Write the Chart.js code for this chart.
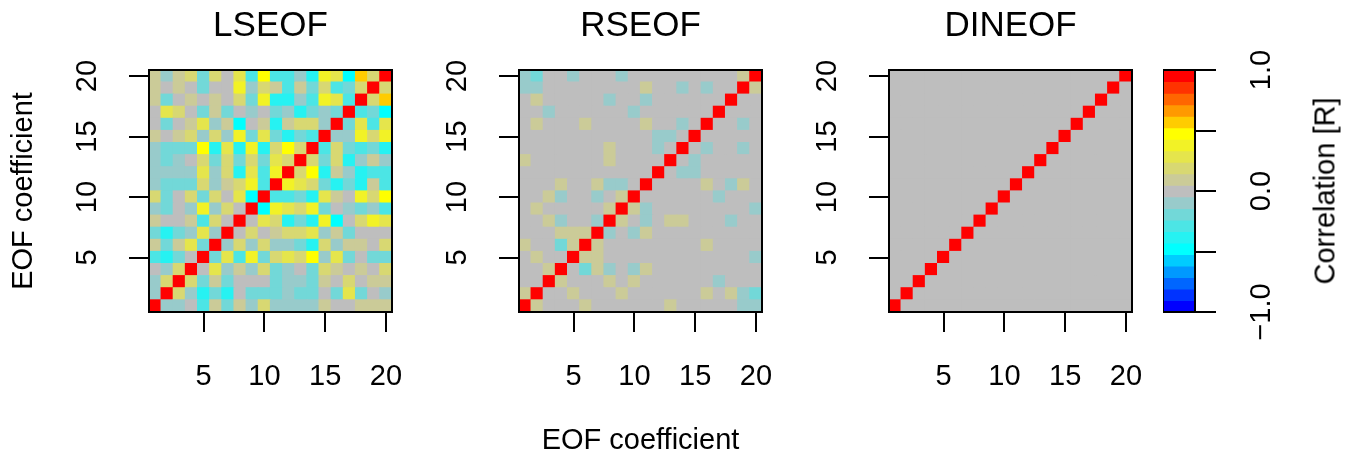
<!DOCTYPE html>
<html>
<head>
<meta charset="utf-8">
<script src="https://cdn.jsdelivr.net/npm/chart.js@4.4.1/dist/chart.umd.min.js"></script>
<style>
  html, body { margin: 0; padding: 0; background: #fff; }
  body { width: 1358px; height: 460px; position: relative; overflow: hidden;
         font-family: "Liberation Sans", Arial, sans-serif; }
  canvas { position: absolute; top: 0; }
  #cbarTitle { position: absolute; left: 1325px; top: 191px; font-size: 29px; line-height: 1;
               white-space: nowrap; transform: translate(-50%, -50%) rotate(-90deg); }
</style>
</head>
<body>
<canvas id="p1" width="452" height="460" style="left:0px"></canvas>
<canvas id="p2" width="452" height="460" style="left:370px"></canvas>
<canvas id="p3" width="452" height="460" style="left:740px"></canvas>
<canvas id="cbar" width="195" height="460" style="left:1163px"></canvas>
<div id="cbarTitle">Correlation [R]</div>
<script>
// EOF coefficients 1..20 (x = column, y = row)
const coef = [1, 2, 3, 4, 5, 6, 7, 8, 9, 10, 11, 12, 13, 14, 15, 16, 17, 18, 19, 20];
const axisTicks = [5, 10, 15, 20];
const cbarTicks = [-1, -0.5, 0, 0.5, 1];
const cbarLabels = ['\u22121.0', '', '0.0', '', '1.0'];

// colour scale, -1 (blue) .. 1 (red), 21 equal bins
const palette = [
  '#0000FF', '#0033FF', '#0066FF', '#0099FF', '#00CCFF', '#00FFFF',
  '#26F2F2', '#4CE5E5', '#72D8D8', '#98CBCB', '#BEBEBE', '#CBCB98',
  '#D8D872', '#E5E54C', '#F2F226', '#FFFF00', '#FFCC00', '#FF9900',
  '#FF6600', '#FF3300', '#FF0000'
];

// correlation matrices, rows listed from coefficient 20 (top) down to 1 (bottom)
const lseof = [
  [0.1,-0.1,0.1,0.2,-0.2,0.2,0,0.3,-0.3,0.5,-0.3,-0.3,-0.1,-0.4,0.4,0.3,-0.5,0.6,0.2,1],
  [0.1,0,0.1,0,-0.2,0,0,0.4,-0.1,0.2,0.1,-0.3,0.1,-0.2,0.2,-0.3,-0.2,0.2,1,0.2],
  [0.1,-0.2,0,0.1,0,0.1,0,0.2,-0.2,0.4,-0.4,-0.4,-0.1,-0.3,0.4,0.3,-0.3,1,0.2,0.6],
  [0,0.3,0.2,0,-0.2,0.1,-0.2,0,-0.1,0,-0.2,-0.1,-0.4,-0.2,-0.1,-0.2,1,-0.3,-0.2,-0.5],
  [0,-0.2,0,0.1,0.3,-0.1,0.1,-0.5,0,0.1,-0.4,0.1,0.2,0.2,-0.1,1,-0.2,0.3,-0.3,0.3],
  [0.1,0,0.1,0.2,-0.1,0.2,-0.1,0.4,-0.2,0.3,-0.2,-0.4,-0.2,-0.3,1,-0.1,-0.1,0.4,0.2,0.4],
  [-0.1,-0.2,-0.2,-0.2,0.5,-0.4,0.3,-0.4,0.4,-0.4,0.2,0.5,0.2,1,-0.3,0.2,-0.2,-0.3,-0.2,-0.4],
  [-0.1,-0.2,-0.1,0,0.2,-0.2,0.2,-0.2,0.2,-0.2,0.3,0.2,1,0.2,-0.2,0.2,-0.4,-0.1,0.1,-0.1],
  [-0.1,-0.1,-0.1,-0.1,0.3,-0.1,0.2,-0.4,0.3,-0.3,0.4,1,0.2,0.5,-0.4,0.1,-0.1,-0.4,-0.3,-0.3],
  [-0.1,-0.2,-0.2,-0.2,0.2,-0.1,0.1,0.2,0.4,-0.3,1,0.4,0.3,0.2,-0.2,-0.4,-0.2,-0.4,0.1,-0.3],
  [0.2,-0.2,0,0.2,-0.2,0.2,0,0.3,-0.5,1,-0.3,-0.3,-0.2,-0.4,0.3,0.1,0,0.4,0.2,0.5],
  [-0.1,-0.2,0,-0.1,0.4,-0.1,0.2,0,1,-0.5,0.4,0.3,0.2,0.4,-0.2,0,-0.1,-0.2,-0.1,-0.3],
  [0.1,0,0,0.1,-0.3,0.2,0,1,0,0.3,0.2,-0.4,-0.2,-0.4,0.4,-0.5,0,0.2,0.4,0.3],
  [-0.2,-0.4,-0.2,-0.1,0.3,-0.1,1,0,0.2,0,0.1,0.2,0.2,0.3,-0.1,0.1,-0.2,0,0,0],
  [0.1,-0.2,0.1,0.3,-0.2,1,-0.1,0.2,-0.1,0.2,-0.1,-0.1,-0.2,-0.4,0.2,-0.1,0.1,0.1,0,0.2],
  [-0.3,-0.4,-0.2,0,1,-0.2,0.3,-0.3,0.4,-0.2,0.2,0.3,0.2,0.5,-0.1,0.3,-0.2,0,-0.2,-0.2],
  [0,-0.1,0.2,1,0,0.3,-0.1,0.1,-0.1,0.2,-0.2,-0.1,0,-0.2,0.2,0.1,0,0.1,0,0.2],
  [-0.1,0.2,1,0.2,-0.2,0.1,-0.2,0,0,0,-0.2,-0.1,-0.1,-0.2,0.1,0,0.2,0,0.1,0.1],
  [-0.1,1,0.2,-0.1,-0.4,-0.2,-0.4,0,-0.2,-0.2,-0.2,-0.1,-0.2,-0.2,0,-0.2,0.3,-0.2,0,-0.1],
  [1,-0.1,-0.1,0,-0.3,0.1,-0.2,0.1,-0.1,0.2,-0.1,-0.1,-0.1,-0.1,0.1,0,0,0.1,0.1,0.1]
];

const rseof = [
  [-0.1,-0.2,0,0,-0.1,0,0,0,-0.1,0,0,0,0,0,0,0,0,0,0.1,1],
  [-0.1,-0.1,0,0,0,0,0,0,0,0,0.1,0,0,-0.1,0,-0.1,0,0,1,0.1],
  [0,0.1,0,0,0,0,0,-0.1,0,0,-0.1,0,0,0,0,0,0,1,0,0],
  [0,0,-0.1,0,0,0,0,0,0,-0.1,0,0,0,0,0,0,1,0,0,0],
  [0,0.1,0,0,0,0.1,0,0,0,0,0.1,0,0,-0.1,0,1,0,0,-0.1,0],
  [0,0,0,0,0,0,0,0,0,0,0,-0.1,-0.1,0,1,0,0,0,0,0],
  [0,0,0,0,0,0,0,0.1,0,0,0,-0.1,0,1,0,-0.1,0,0,-0.1,0],
  [0.1,0,0,0,0,0,0,0.1,0,0,0,0,1,0,-0.1,0,0,0,0,0],
  [0,0,0,0,0,0,0,0,0,0,0,1,0,-0.1,-0.1,0,0,0,0,0],
  [0,0,0,0.1,0,0,0.1,-0.1,-0.1,0,1,0,0,0,0,0.1,0,-0.1,0.1,0],
  [0,0,0.1,-0.1,0,0,-0.1,0,0.1,1,0,0,0,0,0,0,-0.1,0,0,0],
  [0,0.1,0,0,0,0,0,0.1,1,0.1,-0.1,0,0,0,0,0,0,0,0,-0.1],
  [0,0,0.1,-0.1,0,0,-0.1,1,0.1,0,-0.1,0,0.1,0.1,0,0,0,-0.1,0,0],
  [0,0,0,0.1,0.1,0.1,1,-0.1,0,-0.1,0.1,0,0,0,0,0,0,0,0,0],
  [0.1,0,0,-0.2,0.1,1,0.1,0,0,0,0,0,0,0,0,0.1,0,0,0,0],
  [0,0.1,0,0,1,0.1,0.1,0,0,0,0,0,0,0,0,0,0,0,0,-0.1],
  [0,0,0.1,1,0,-0.2,0.1,-0.1,0,-0.1,0.1,0,0,0,0,0,0,0,0,0],
  [0,0,1,0.1,0,0,0,0.1,0,0.1,0,0,0,0,0,0,-0.1,0,0,0],
  [0.1,1,0,0,0.1,0,0,0,0.1,0,0,0,0,0,0,0.1,0,0.1,-0.1,-0.2],
  [1,0.1,0,0,0,0.1,0,0,0,0,0,0,0.1,0,0,0,0,0,-0.1,-0.1]
];

const dineof = [
  [0,0,0,0,0,0,0,0,0,0,0,0,0,0,0,0,0,0,0,1],
  [0,0,0,0,0,0,0,0,0,0,0,0,0,0,0,0,0,0,1,0],
  [0,0,0,0,0,0,0,0,0,0,0,0,0,0,0,0,0,1,0,0],
  [0,0,0,0,0,0,0,0,0,0,0,0,0,0,0,0,1,0,0,0],
  [0,0,0,0,0,0,0,0,0,0,0,0,0,0,0,1,0,0,0,0],
  [0,0,0,0,0,0,0,0,0,0,0,0,0,0,1,0,0,0,0,0],
  [0,0,0,0,0,0,0,0,0,0,0,0,0,1,0,0,0,0,0,0],
  [0,0,0,0,0,0,0,0,0,0,0,0,1,0,0,0,0,0,0,0],
  [0,0,0,0,0,0,0,0,0,0,0,1,0,0,0,0,0,0,0,0],
  [0,0,0,0,0,0,0,0,0,0,1,0,0,0,0,0,0,0,0,0],
  [0,0,0,0,0,0,0,0,0,1,0,0,0,0,0,0,0,0,0,0],
  [0,0,0,0,0,0,0,0,1,0,0,0,0,0,0,0,0,0,0,0],
  [0,0,0,0,0,0,0,1,0,0,0,0,0,0,0,0,0,0,0,0],
  [0,0,0,0,0,0,1,0,0,0,0,0,0,0,0,0,0,0,0,0],
  [0,0,0,0,0,1,0,0,0,0,0,0,0,0,0,0,0,0,0,0],
  [0,0,0,0,1,0,0,0,0,0,0,0,0,0,0,0,0,0,0,0],
  [0,0,0,1,0,0,0,0,0,0,0,0,0,0,0,0,0,0,0,0],
  [0,0,1,0,0,0,0,0,0,0,0,0,0,0,0,0,0,0,0,0],
  [0,1,0,0,0,0,0,0,0,0,0,0,0,0,0,0,0,0,0,0],
  [1,0,0,0,0,0,0,0,0,0,0,0,0,0,0,0,0,0,0,0]
];

Chart.defaults.font.family = '"Liberation Sans", Arial, sans-serif';
Chart.defaults.font.size = 29;
Chart.defaults.color = '#000';

function colorFor(v) {
  let k = Math.floor((v + 1) / 2 * palette.length);
  k = Math.max(0, Math.min(palette.length - 1, k));
  return palette[k];
}

// black box round the plot area
const frame = {
  id: 'frame',
  afterDatasetsDraw(chart) {
    const {ctx, chartArea: a} = chart;
    ctx.save();
    ctx.strokeStyle = '#000';
    ctx.lineWidth = 2;
    ctx.strokeRect(a.left, a.top, a.right - a.left, a.bottom - a.top);
    ctx.restore();
  }
};

const tickGrid = {
  display: true, drawOnChartArea: false, drawTicks: true, offset: false,
  tickLength: 20, color: '#000', lineWidth: 2
};

function heatmap(id, titulo, mat, yTitle, xTitle) {
  const pts = [];
  const cores = [];
  mat.forEach((row, i) => {
    const r = coef[coef.length - 1 - i];
    row.forEach((v, j) => {
      pts.push({x: coef[j], y: [r - 0.5, r + 0.5]});
      cores.push(colorFor(v));
    });
  });

  return new Chart(document.getElementById(id), {
    type: 'bar',
    data: {
      datasets: [{
        data: pts,
        backgroundColor: cores,
        borderWidth: 0,
        inflateAmount: 0.6,
        categoryPercentage: 1,
        barPercentage: 1,
        xAxisID: 'x',
        yAxisID: 'y'
      }]
    },
    options: {
      responsive: false,
      animation: false,
      events: [],
      layout: { padding: { right: 60 } },
      plugins: { legend: { display: false }, tooltip: { enabled: false } },
      scales: {
        x2: {
          type: 'linear', position: 'top', min: 0.5, max: 20.5,
          grid: { display: false }, border: { display: false }, ticks: { display: false },
          title: { display: true, text: titulo, font: { size: 35 }, padding: { top: 5, bottom: 0 } },
          afterFit: s => { s.height = 70; }
        },
        x: {
          type: 'linear', position: 'bottom', min: 0.5, max: 20.5, offset: false,
          afterBuildTicks: s => { s.ticks = axisTicks.map(v => ({ value: v })); },
          grid: tickGrid, border: { display: false },
          ticks: { padding: 28, maxRotation: 0, autoSkip: false },
          title: { display: !!xTitle, text: xTitle || '', padding: { top: 0, bottom: 2 } },
          afterFit: s => { s.height = 148; }
        },
        y: {
          type: 'linear', position: 'left', min: 0.5, max: 20.5,
          afterBuildTicks: s => { s.ticks = axisTicks.map(v => ({ value: v })); },
          grid: tickGrid, border: { display: false },
          ticks: { padding: 25, minRotation: 90, crossAlign: 'center', autoSkip: false },
          title: { display: !!yTitle, text: yTitle || '', padding: { top: 7, bottom: 0 } },
          afterFit: s => { s.width = 149; }
        }
      }
    },
    plugins: [frame]
  });
}

heatmap('p1', 'LSEOF', lseof, 'EOF coefficient', null);
heatmap('p2', 'RSEOF', rseof, null, 'EOF coefficient');
heatmap('p3', 'DINEOF', dineof, null, null);

// colour bar
const faixas = palette.map((c, k) => ({
  x: 1,
  y: [-1 + 2 * k / palette.length, -1 + 2 * (k + 1) / palette.length]
}));

new Chart(document.getElementById('cbar'), {
  type: 'bar',
  data: {
    datasets: [{
      data: faixas,
      backgroundColor: palette,
      borderWidth: 0,
      inflateAmount: 0.6,
      categoryPercentage: 1,
      barPercentage: 1
    }]
  },
  options: {
    responsive: false,
    animation: false,
    events: [],
    layout: { padding: { top: 70, bottom: 148 } },
    plugins: { legend: { display: false }, tooltip: { enabled: false } },
    scales: {
      x: {
        type: 'linear', display: false, min: 0.5, max: 1.5,
        afterBuildTicks: s => { s.ticks = []; }
      },
      y: {
        type: 'linear', position: 'right', min: -1, max: 1,
        afterBuildTicks: s => { s.ticks = cbarTicks.map(v => ({ value: v })); },
        grid: Object.assign({}, tickGrid, { tickLength: 21 }), border: { display: false },
        ticks: {
          callback: (v, i) => cbarLabels[i],
          padding: 17, minRotation: 90, crossAlign: 'center', autoSkip: false
        },
        afterFit: s => { s.width = 163; }
      }
    }
  },
  plugins: [frame]
});
</script>
</body>
</html>
